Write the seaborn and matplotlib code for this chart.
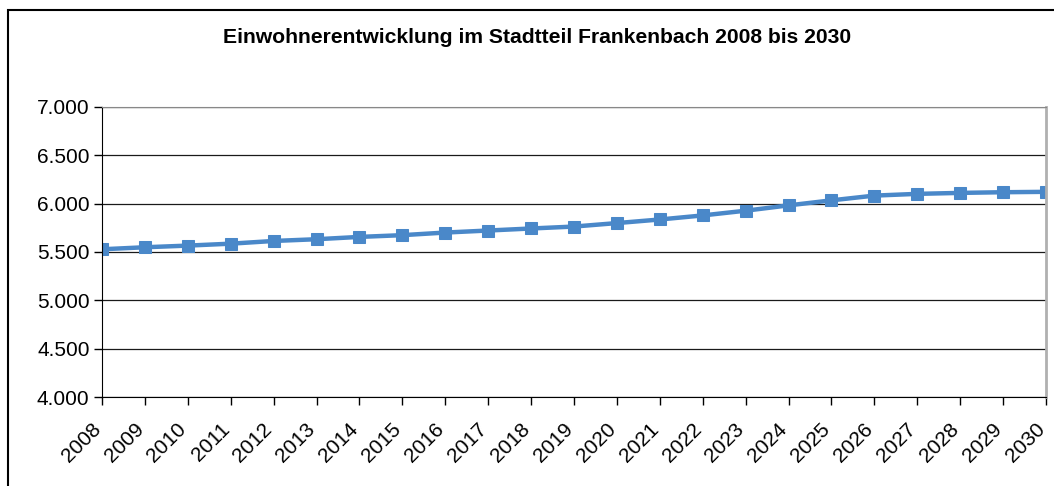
import matplotlib
matplotlib.use("Agg")
import matplotlib.pyplot as plt
import matplotlib.patches as mpatches
import matplotlib.ticker as mticker
import matplotlib.transforms as mtransforms
import seaborn as sns
import pandas as pd

# data
years = list(range(2008, 2031))
einwohner = [5528, 5549, 5566, 5586, 5614, 5632, 5656, 5674, 5701, 5722, 5743, 5763,
             5799, 5836, 5878, 5927, 5982, 6034, 6083, 6101, 6111, 6118, 6122]
title = "Einwohnerentwicklung im Stadtteil Frankenbach 2008 bis 2030"

df = pd.DataFrame({"Jahr": years, "Einwohner": einwohner})

sns.set_style("white")
plt.rcParams["font.family"] = ["Liberation Sans", "DejaVu Sans"]
plt.rcParams["text.color"] = "black"
plt.rcParams["xtick.color"] = "black"
plt.rcParams["ytick.color"] = "black"

fig = plt.figure(figsize=(10.54, 4.86), dpi=100)
ax = fig.add_axes([0.0968, 0.183, 0.8956, 0.597])

sns.lineplot(data=df, x="Jahr", y="Einwohner", ax=ax, color="#4a88c9",
             linewidth=3.2, marker="s", markersize=9, markeredgecolor="#4a88c9")

ax.set_xlim(2008, 2030)
ax.set_ylim(4000, 7000)
ax.set_xticks(years)
ax.set_xticklabels([str(y) for y in years], rotation=45, ha="right",
                   rotation_mode="anchor", fontsize=15)
ax.yaxis.set_major_locator(mticker.MultipleLocator(500))
ax.yaxis.set_major_formatter(mticker.FuncFormatter(lambda v, p: f"{int(v):,}".replace(",", ".")))
ax.tick_params(axis="y", labelsize=15, length=6, width=1, pad=3, left=True)
ax.tick_params(axis="x", length=6, width=1, pad=3, bottom=True)
ax.set_xlabel("")
ax.set_ylabel("")

# shift the slanted year labels a bit down-left like the original
shift = mtransforms.ScaledTranslation(-0.11, -0.10, fig.dpi_scale_trans)
for lbl in ax.get_xticklabels():
    lbl.set_transform(lbl.get_transform() + shift)

ax.grid(axis="y", color="#1a1a1a", linewidth=0.9)
ax.set_axisbelow(True)
ax.spines["left"].set_color("black")
ax.spines["bottom"].set_color("black")
ax.spines["top"].set_color("#888888")
ax.spines["right"].set_color("#b0b0b0")
ax.spines["right"].set_linewidth(2)

fig.text(0.510, 0.922, title, ha="center", va="center", fontsize=15.2, fontweight="bold")

# outer chart frame
fig.patches.append(mpatches.Rectangle((8 / 1054, -0.01), 1.1, 1 - 10 / 486 + 0.01,
                                      transform=fig.transFigure, fill=False,
                                      edgecolor="black", linewidth=1.5))

fig.savefig("out.png", dpi=100)
